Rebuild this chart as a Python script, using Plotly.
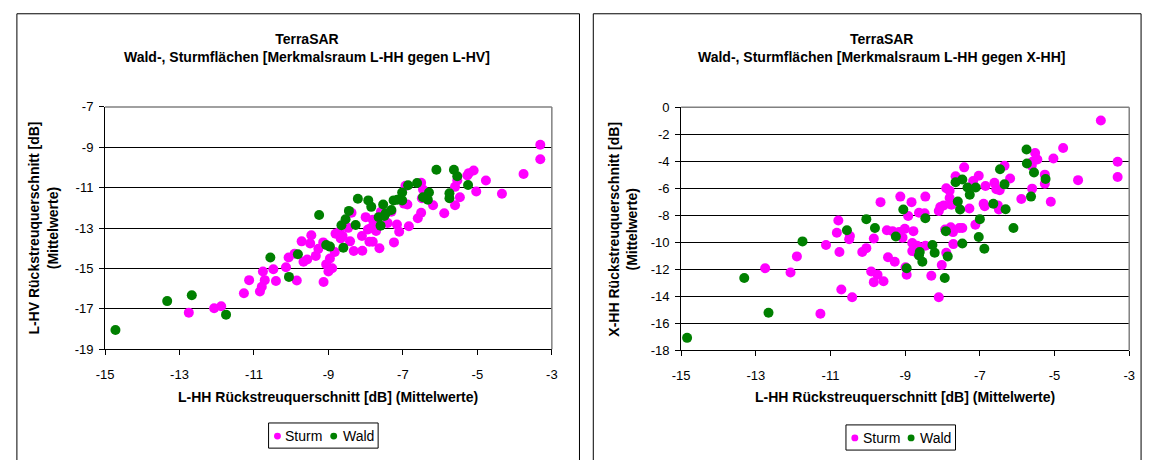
import plotly.graph_objects as go

W, H = 1152, 460

# ---------------- data ----------------
# Left chart: L-HH (x) vs L-HV (y)
left_sturm_x = [-12.75, -12.07, -11.88, -11.27, -11.13, -10.84, -10.79, -10.71, -10.76, -10.48,
                -10.41, -10.14, -10.07, -9.91, -9.85, -9.72, -9.67, -9.57, -9.49, -9.46,
                -9.34, -9.27, -9.14, -9.13, -9.06, -9.0, -8.9, -8.96, -8.83, -8.81,
                -8.71, -8.62, -8.67, -8.47, -8.42, -8.38, -8.32, -8.09, -8.0, -8.1,
                -7.94, -7.85, -7.9, -7.81, -7.72, -7.63, -7.81, -7.77, -7.59, -7.41,
                -7.31, -7.16, -7.1, -7.24, -6.88, -6.84, -6.6, -6.51, -6.51, -6.46,
                -6.49, -6.93, -6.97, -6.19, -5.89, -5.6, -5.6, -5.47, -5.54, -5.27,
                -5.23, -5.1, -5.03, -4.77, -4.34, -3.76, -3.31, -3.31]
left_sturm_y = [-17.19, -16.97, -16.87, -16.23, -15.58, -16.14, -15.91, -15.58, -15.15, -15.04,
                -15.62, -14.94, -14.46, -14.27, -15.6, -13.66, -14.67, -14.56, -13.76, -13.36,
                -14.38, -14.03, -13.71, -15.67, -14.8, -15.15, -14.99, -14.51, -14.19, -13.28,
                -13.2, -13.39, -13.52, -12.99, -13.66, -12.24, -14.14, -14.12, -12.46, -13.39,
                -13.07, -12.99, -13.68, -13.68, -13.15, -14.0, -12.59, -12.91, -12.19, -12.75,
                -12.19, -12.83, -13.18, -13.71, -11.83, -12.91, -12.51, -12.24, -10.76, -11.09,
                -11.52, -10.91, -11.79, -11.87, -12.27, -11.87, -10.96, -11.47, -10.64, -10.4,
                -10.28, -10.15, -11.19, -10.64, -11.3, -10.32, -8.87, -9.59]
left_wald_x = [-14.72, -13.33, -12.67, -11.75, -10.56, -10.06, -9.82, -9.25, -9.06, -8.96,
               -8.6, -8.65, -8.54, -8.45, -8.27, -8.21, -7.93, -7.85, -7.53, -7.6,
               -7.65, -7.5, -7.46, -7.31, -7.25, -7.15, -7.02, -7.02, -6.86, -6.62,
               -6.46, -6.33, -6.3, -6.1, -5.63, -5.54, -5.75, -5.75, -5.25]
left_wald_y = [-18.05, -16.62, -16.33, -17.29, -14.46, -15.42, -14.30, -12.35, -13.84, -13.92,
               -13.98, -12.86, -12.56, -12.15, -12.85, -11.55, -11.63, -11.95, -11.83, -12.88,
               -12.46, -12.4, -12.27, -12.11, -11.63, -11.6, -11.63, -11.24, -10.88, -10.77,
               -11.47, -11.6, -11.24, -10.11, -10.11, -10.43, -11.28, -11.52, -10.87]

# Right chart: L-HH (x) vs X-HH (y)
right_sturm_x = [-9.66, -9.13, -8.83, -8.46, -10.79, -10.83, -10.48, -10.5, -9.49, -9.34,
                 -9.16, -9.01, -9.84, -8.92, -8.63, -8.78, -12.75, -12.07, -11.9, -11.27,
                 -11.12, -10.76, -10.71, -10.42, -10.15, -10.04, -9.91, -9.74, -9.84, -9.58,
                 -9.46, -9.28, -8.99, -8.96, -8.81, -8.68, -8.81, -8.72, -8.46, -9.07,
                 -3.76, -4.77, -5.03, -5.52, -5.46, -5.59, -5.61, -3.31, -3.31, -4.37,
                 -5.26, -5.26, -5.1, -5.6, -5.89, -6.19, -6.34, -6.61, -6.56, -6.47,
                 -6.85, -7.03, -7.18, -7.42, -7.65, -7.9, -7.81, -7.81, -7.76, -6.9,
                 -6.87, -6.52, -6.49, -7.28, -8.06, -7.97, -8.1, -8.48, -7.93, -7.78,
                 -7.72, -7.55, -7.47, -7.12, -7.71, -7.9, -8.02, -8.3, -8.1]
right_sturm_y = [-7.03, -6.62, -7.03, -6.62, -8.39, -9.3, -9.54, -9.78, -9.11, -9.18,
                 -9.25, -9.01, -9.73, -8.06, -7.82, -9.18, -11.93, -12.24, -11.05, -15.3,
                 -10.21, -10.73, -13.51, -14.08, -10.73, -10.44, -12.17, -12.41, -12.96, -12.89,
                 -11.12, -11.45, -11.86, -12.41, -10.06, -10.26, -10.66, -10.73, -10.26, -9.66,
                 -0.98, -3.01, -3.8, -3.39, -3.87, -4.04, -4.33, -4.04, -5.16, -5.4,
                 -4.99, -5.67, -7.0, -6.03, -6.79, -5.28, -4.33, -5.6, -6.07, -6.14,
                 -5.83, -5.07, -5.47, -4.45, -5.11, -6.0, -6.19, -6.72, -7.22, -7.15,
                 -7.34, -7.27, -7.58, -7.5, -7.39, -7.27, -7.68, -7.86, -9.06, -8.89,
                 -9.25, -8.94, -8.94, -8.7, -10.14, -10.78, -11.69, -12.48, -14.08]
right_wald_x = [-9.05, -10.04, -9.81, -10.56, -9.25, -8.46, -11.75, -13.31, -12.66, -8.61,
                -8.63, -8.54, -8.96, -14.84, -5.75, -5.74, -5.55, -5.24, -5.63, -6.46,
                -6.34, -6.31, -6.64, -7.11, -7.33, -7.27, -7.47, -7.65, -7.59, -7.53,
                -7.91, -7.0, -6.1, -7.03, -6.88, -7.47, -8.27, -8.21, -7.86, -7.94]
right_wald_y = [-7.58, -8.29, -8.94, -9.11, -9.58, -8.22, -9.94, -12.65, -15.23, -10.73,
                -10.98, -11.45, -11.93, -17.09, -3.13, -4.16, -4.83, -5.31, -6.62, -4.59,
                -5.71, -7.55, -7.15, -5.95, -5.95, -6.48, -5.35, -5.55, -6.98, -7.58,
                -9.18, -8.29, -8.94, -9.61, -10.49, -10.09, -10.21, -10.78, -11.05, -12.65]

x_ticks = [-15, -13, -11, -9, -7, -5, -3]
left_y_ticks = [-19, -17, -15, -13, -11, -9, -7]
right_y_ticks = [-18, -16, -14, -12, -10, -8, -6, -4, -2, 0]

series_names = ["Sturm", "Wald"]
titles = ["TerraSAR<br>Wald-, Sturmflächen [Merkmalsraum L-HH gegen L-HV]",
          "TerraSAR<br>Wald-, Sturmflächen [Merkmalsraum L-HH gegen X-HH]"]
x_title = "L-HH Rückstreuquerschnitt [dB] (Mittelwerte)"
y_titles = ["L-HV Rückstreuquerschnitt [dB]<br>(Mittelwerte)",
            "X-HH Rückstreuquerschnitt [dB]<br>(Mittelwerte)"]

STURM = "#FF00FF"
WALD = "#008000"
FONT = "Liberation Sans, Arial, sans-serif"


def px_x(p):
    return p / W


def px_y(p):
    return 1 - p / H


def labels(vals):
    return [str(v) for v in vals]  # ASCII hyphen-minus like the original


fig = go.Figure()

mk = dict(size=10, line=dict(width=0))
fig.add_trace(go.Scatter(x=left_sturm_x, y=left_sturm_y, mode="markers", name=series_names[0],
                         marker=dict(color=STURM, **mk), xaxis="x", yaxis="y"))
fig.add_trace(go.Scatter(x=left_wald_x, y=left_wald_y, mode="markers", name=series_names[1],
                         marker=dict(color=WALD, **mk), xaxis="x", yaxis="y"))
fig.add_trace(go.Scatter(x=right_sturm_x, y=right_sturm_y, mode="markers", name=series_names[0],
                         marker=dict(color=STURM, **mk), xaxis="x2", yaxis="y2"))
fig.add_trace(go.Scatter(x=right_wald_x, y=right_wald_y, mode="markers", name=series_names[1],
                         marker=dict(color=WALD, **mk), xaxis="x2", yaxis="y2"))

# plot-area pixel boxes
L = dict(x0=97.3, x1=550.0, y0=103.3, y1=353.7)
R = dict(x0=681.0, x1=1135.0, y0=103.7, y1=354.7)

tickfont = dict(family=FONT, size=13, color="black")
ax_common = dict(showline=True, linecolor="black", linewidth=1, ticks="outside",
                 ticklen=5, tickcolor="black", tickwidth=1, tickfont=tickfont,
                 zeroline=False, mirror=False)

fig.update_layout(
    width=W, height=H,
    margin=dict(l=0, r=0, t=0, b=0),
    paper_bgcolor="white", plot_bgcolor="white",
    font=dict(family=FONT, color="black"),
    showlegend=False,
    xaxis=dict(domain=[px_x(L["x0"]), px_x(L["x1"])], range=[-15, -3], tickvals=x_ticks,
               ticktext=labels(x_ticks), ticklabelstandoff=8,
               showgrid=False, anchor="y", **ax_common),
    yaxis=dict(domain=[px_y(L["y1"]), px_y(L["y0"])], range=[-19, -7], tickvals=left_y_ticks,
               ticktext=labels(left_y_ticks), ticklabelstandoff=3,
               showgrid=True, gridcolor="black", gridwidth=1, anchor="x", **ax_common),
    xaxis2=dict(domain=[px_x(R["x0"]), px_x(R["x1"])], range=[-15, -3], tickvals=x_ticks,
                ticktext=labels(x_ticks), ticklabelstandoff=8,
                showgrid=False, anchor="y2", **ax_common),
    yaxis2=dict(domain=[px_y(R["y1"]), px_y(R["y0"])], range=[-18, 0], tickvals=right_y_ticks,
                ticktext=labels(right_y_ticks), ticklabelstandoff=3,
                showgrid=True, gridcolor="black", gridwidth=1, anchor="x2", **ax_common),
)

shapes = []
ann = []
# chart frames
shapes.append(dict(type="rect", xref="paper", yref="paper", x0=px_x(8), x1=px_x(578),
                   y0=px_y(475), y1=px_y(7), line=dict(color="black", width=1)))
shapes.append(dict(type="rect", xref="paper", yref="paper", x0=px_x(592), x1=px_x(1147),
                   y0=px_y(475), y1=px_y(7), line=dict(color="black", width=1)))
# plot-area border (grey top & right)
for B in (L, R):
    shapes.append(dict(type="line", xref="paper", yref="paper", x0=px_x(B["x0"]), x1=px_x(B["x1"]),
                       y0=px_y(B["y0"]), y1=px_y(B["y0"]), line=dict(color="#808080", width=1.5)))
    shapes.append(dict(type="line", xref="paper", yref="paper", x0=px_x(B["x1"]), x1=px_x(B["x1"]),
                       y0=px_y(B["y0"]), y1=px_y(B["y1"]), line=dict(color="#808080", width=1.5)))

# compact legends (box, symbol, label) like the original
for lx, ly in ((263, 430), (848, 432)):
    shapes.append(dict(type="rect", xref="paper", yref="paper", x0=px_x(lx), x1=px_x(lx + 111),
                       y0=px_y(ly + 26), y1=px_y(ly), line=dict(color="black", width=1),
                       fillcolor="white", layer="above"))
    cy = ly + 13.5
    for (dx, tx), nm, col in zip(((9, 15), (66, 73)), series_names, (STURM, WALD)):
        r = 3.5
        shapes.append(dict(type="circle", xref="paper", yref="paper",
                           x0=px_x(lx + dx - r), x1=px_x(lx + dx + r),
                           y0=px_y(cy + r), y1=px_y(cy - r),
                           fillcolor=col, line=dict(width=0), layer="above"))
        ann.append(dict(text=nm, xref="paper", yref="paper", x=px_x(lx + tx), y=px_y(cy),
                        xanchor="left", yanchor="middle", showarrow=False,
                        font=dict(family=FONT, size=14, color="black")))
fig.update_layout(shapes=shapes)

bold = dict(family=FONT, size=14, color="black")
for cx, t in ((302, titles[0]), (884, titles[1])):
    ann.append(dict(text="<b>" + t.replace("<br>", "</b><br><b>") + "</b>", xref="paper", yref="paper",
                    x=px_x(cx), y=px_y(42), xanchor="center", yanchor="middle", showarrow=False,
                    font=bold, align="center"))
for B in (L, R):
    ann.append(dict(text="<b>" + x_title + "</b>", xref="paper", yref="paper",
                    x=px_x((B["x0"] + B["x1"]) / 2), y=px_y(403), xanchor="center", yanchor="middle",
                    showarrow=False, font=bold))
for cx, B, t in ((35, L, y_titles[0]), (622, R, y_titles[1])):
    ann.append(dict(text="<b>" + t.replace("<br>", "</b><br><b>") + "</b>", xref="paper", yref="paper",
                    x=px_x(cx), y=px_y((B["y0"] + B["y1"]) / 2), xanchor="center", yanchor="middle",
                    textangle=-90, showarrow=False, font=bold, align="center"))
fig.update_layout(annotations=ann)

fig.write_html("out.html")
